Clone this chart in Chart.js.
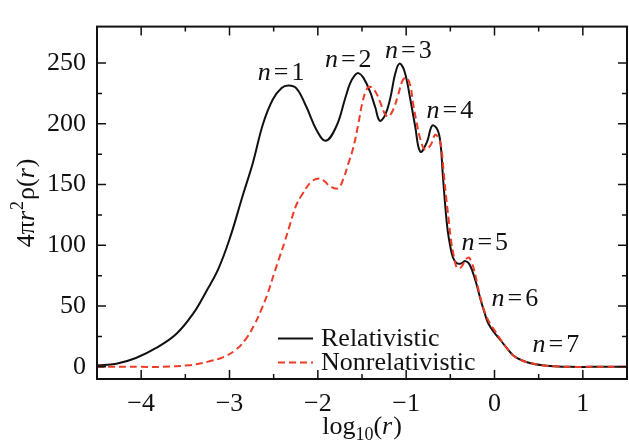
<!DOCTYPE html>
<html>
<head>
<meta charset="utf-8">
<script src="https://cdn.jsdelivr.net/npm/chart.js@4.4.0/dist/chart.umd.min.js"></script>
<style>
  body { margin: 0; background: #fff; }
  #wrap { width: 629px; height: 447px; }
</style>
</head>
<body>
<div id="wrap"><canvas id="chart" width="629" height="447"></canvas></div>
<script>
// log10(r) vs 4*pi*r^2*rho(r)
const relX = [-4.5, -4.28, -4.06, -3.83, -3.6, -3.41, -3.26, -3.13, -3.0, -2.85,
  -2.735, -2.62, -2.51, -2.41, -2.33, -2.24, -2.13, -2.015, -1.91, -1.79,
  -1.69, -1.636, -1.58, -1.54, -1.485, -1.41, -1.35, -1.3, -1.24, -1.18,
  -1.125, -1.076, -1.02, -0.955, -0.898, -0.84, -0.765, -0.705, -0.645, -0.61,
  -0.587, -0.557, -0.53, -0.5, -0.47, -0.43, -0.38, -0.33, -0.28, -0.216,
  -0.16, -0.102, -0.065, -0.008, 0.068, 0.144, 0.22, 0.315, 0.41, 0.54,
  0.67, 0.86, 1.1, 1.5];
const relY = [1.3, 2.6, 7.3, 15.6, 27.3, 44, 62.5, 80, 105, 141,
  168, 200, 220, 229.5, 231.5, 229, 214, 195, 186, 198,
  221, 233, 240, 241.7, 238, 226.6, 213.6, 202.6, 207, 221,
  241, 249.5, 243.5, 221, 198, 177, 185, 198.5, 195, 183,
  160, 132, 112, 99, 90, 85.5, 85, 87, 84, 71,
  56, 42, 35, 28.7, 22, 15, 9, 5.2, 3, 1.3,
  0.5, 0, 0, 0];

const nonX = [-4.5, -4.0, -3.75, -3.455, -3.375, -3.24, -3.076, -2.924, -2.81, -2.716,
  -2.64, -2.565, -2.49, -2.43, -2.375, -2.32, -2.25, -2.185, -2.07, -1.977,
  -1.92, -1.86, -1.77, -1.71, -1.656, -1.6, -1.54, -1.5, -1.45, -1.41,
  -1.35, -1.3, -1.24, -1.2, -1.145, -1.09, -1.04, -1.0, -0.955, -0.92,
  -0.88, -0.84, -0.79, -0.727, -0.67, -0.62, -0.6, -0.575, -0.548, -0.52,
  -0.49, -0.46, -0.43, -0.4, -0.367, -0.33, -0.29, -0.26, -0.235, -0.2,
  -0.16, -0.1, -0.05, 0.0, 0.068, 0.144, 0.22, 0.315, 0.41, 0.54,
  0.67, 0.86, 1.1, 1.5];
const nonY = [0, 0, 0, 1.3, 2.1, 4.3, 7.8, 14.3, 23.4, 35,
  47, 61, 78, 91, 103, 116, 132, 141, 152.5, 155,
  152.5, 148.4, 147, 155, 167, 180, 200.5, 216, 228, 230.5,
  226.6, 218.8, 208, 206, 212, 224, 235.7, 238, 232, 216,
  200.5, 187.5, 179, 182, 191, 186, 180, 160, 140, 122,
  103, 91, 82, 81, 83, 88, 90, 86, 81, 70,
  57, 43, 35.5, 30, 22.5, 15, 9, 5.2, 3, 1.3,
  0.5, 0, 0, 0];

const seriesNames = ['Relativistic', 'Nonrelativistic'];
const xTicks = [-4, -3, -2, -1, 0, 1];
const xMinor = [-3.5, -2.5, -1.5, -0.5, 0.5];
const yTicks = [0, 50, 100, 150, 200, 250];
const yMinor = [25, 75, 125, 175, 225];
const shellNums = ['1', '2', '3', '4', '5', '6', '7'];

const FONT = '"Liberation Serif", "Times New Roman", serif';
const INK = '#111';
const RED = '#ee3b26';
Chart.defaults.font.family = FONT;

// left edge / baseline of each "n = k" label, in data units
const shellPos = [[-2.68, 235.7], [-1.92, 247], [-1.24, 254.5], [-0.77, 204.5], [-0.375, 95.9], [-0.034, 49.8], [0.43, 12.3]];

const toPoints = (xs, ys) => xs.map((x, i) => ({ x: x, y: ys[i] }));
const fmt = v => (v < 0 ? '\u2212' + Math.abs(v) : String(v));

// parts: [text, size, italic, dy, gapAfter]
function drawRich(ctx, parts, x, y, align) {
  const fontOf = p => (p[2] ? 'italic ' : '') + p[1] + 'px ' + FONT;
  let w = 0;
  parts.forEach(p => { ctx.font = fontOf(p); w += ctx.measureText(p[0]).width + (p[4] || 0); });
  let cx = align === 'center' ? x - w / 2 : x;
  ctx.textAlign = 'left';
  ctx.textBaseline = 'alphabetic';
  parts.forEach(p => {
    ctx.font = fontOf(p);
    ctx.fillText(p[0], cx, y + (p[3] || 0));
    cx += ctx.measureText(p[0]).width + (p[4] || 0);
  });
}

const framePlugin = {
  id: 'frame',
  afterDraw(chart) {
    const ctx = chart.ctx;
    const a = chart.chartArea;
    const xs = chart.scales.x, ys = chart.scales.y;
    ctx.save();
    ctx.strokeStyle = INK;
    ctx.fillStyle = INK;

    ctx.lineWidth = 2;
    ctx.strokeRect(a.left, a.top, a.right - a.left, a.bottom - a.top);

    ctx.lineWidth = 1.5;
    ctx.beginPath();
    const tickX = (v, len) => {
      const px = xs.getPixelForValue(v);
      ctx.moveTo(px, a.bottom); ctx.lineTo(px, a.bottom - len);
      ctx.moveTo(px, a.top); ctx.lineTo(px, a.top + len);
    };
    const tickY = (v, len) => {
      const py = ys.getPixelForValue(v);
      ctx.moveTo(a.left, py); ctx.lineTo(a.left + len, py);
      ctx.moveTo(a.right, py); ctx.lineTo(a.right - len, py);
    };
    xTicks.forEach(v => tickX(v, 9));
    xMinor.forEach(v => tickX(v, 5));
    yTicks.forEach(v => tickY(v, 9));
    yMinor.forEach(v => tickY(v, 5));
    ctx.stroke();

    // n = k labels
    shellNums.forEach((k, i) => {
      const px = xs.getPixelForValue(shellPos[i][0]);
      const py = ys.getPixelForValue(shellPos[i][1]);
      drawRich(ctx, [['n', 26, true, 0, 3], ['=', 26, false, 0, 3], [k, 26, false, 0, 0]], px, py, 'left');
    });

    // legend
    const lx = a.left + 181, ly = a.top + 312;
    ctx.lineWidth = 2;
    ctx.beginPath(); ctx.moveTo(lx, ly); ctx.lineTo(lx + 35, ly); ctx.stroke();
    ctx.strokeStyle = RED;
    ctx.setLineDash([7, 4]);
    ctx.beginPath(); ctx.moveTo(lx, ly + 24); ctx.lineTo(lx + 35, ly + 24); ctx.stroke();
    ctx.setLineDash([]);
    drawRich(ctx, [[seriesNames[0], 26, false]], lx + 43, ly + 7, 'left');
    drawRich(ctx, [[seriesNames[1], 26, false]], lx + 43, ly + 31, 'left');

    // axis titles
    drawRich(ctx, [['log', 26, false], ['10', 18, false, 6], ['(', 26, false], ['r', 26, true, 0, 1], [')', 26, false]],
      (a.left + a.right) / 2, 434, 'center');
    ctx.translate(34, (a.top + a.bottom) / 2);
    ctx.rotate(-Math.PI / 2);
    drawRich(ctx, [['4\u03c0', 26, false], ['r', 26, true, 0, 1], ['2', 18, false, -11, 1], ['\u03c1(', 26, false], ['r', 26, true, 0, 1], [')', 26, false]],
      0, 0, 'center');
    ctx.restore();
  }
};

new Chart(document.getElementById('chart'), {
  type: 'line',
  data: {
    datasets: [
      {
        label: seriesNames[0],
        data: toPoints(relX, relY),
        borderColor: INK,
        borderWidth: 2,
        pointRadius: 0,
        tension: 0.4,
        order: 1
      },
      {
        label: seriesNames[1],
        data: toPoints(nonX, nonY),
        borderColor: RED,
        borderWidth: 2,
        borderDash: [7, 4],
        pointRadius: 0,
        tension: 0.4,
        order: 0
      }
    ]
  },
  options: {
    responsive: false,
    animation: false,
    layout: { padding: { top: 7, right: 2, left: 0, bottom: 0 } },
    plugins: { legend: { display: false }, tooltip: { enabled: false } },
    scales: {
      x: {
        type: 'linear',
        min: -4.5,
        max: 1.5,
        grid: { display: false, drawTicks: false },
        border: { display: false },
        afterBuildTicks: s => { s.ticks = xTicks.map(v => ({ value: v })); },
        afterFit: s => { s.height = 68; },
        ticks: { padding: 10, color: INK, maxRotation: 0, font: { family: FONT, size: 26 }, callback: v => fmt(v) }
      },
      y: {
        type: 'linear',
        min: -10,
        max: 280,
        grid: { display: false, drawTicks: false },
        border: { display: false },
        afterBuildTicks: s => { s.ticks = yTicks.map(v => ({ value: v })); },
        afterFit: s => { s.width = 97; },
        ticks: { padding: 11, color: INK, font: { family: FONT, size: 26 }, callback: v => fmt(v) }
      }
    }
  },
  plugins: [framePlugin]
});
</script>
</body>
</html>
